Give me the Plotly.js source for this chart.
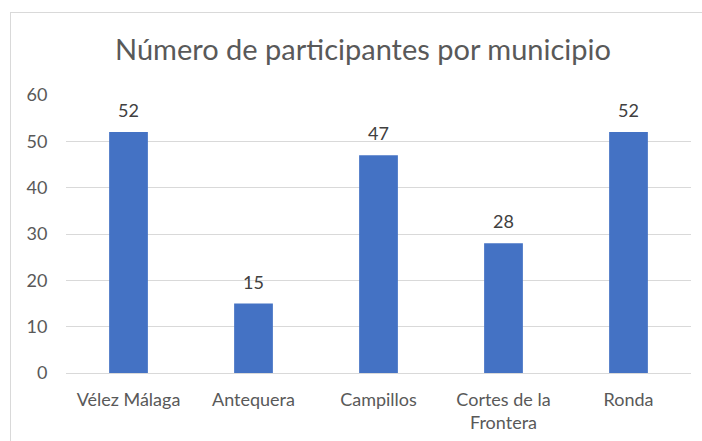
<!DOCTYPE html>
<html>
<head>
<meta charset="utf-8">
<script src="https://cdn.plot.ly/plotly-3.0.1.min.js"></script>
<style>
html,body{margin:0;padding:0;width:702px;height:441px;overflow:hidden;background:#fff;}
#chart{position:absolute;left:0;top:0;width:702px;height:441px;}
#frame{position:absolute;left:10px;top:12px;width:800px;height:600px;border-left:1px solid #d9d9d9;border-top:1px solid #d9d9d9;pointer-events:none;}
</style>
</head>
<body>
<div id="chart"></div>
<div id="frame"></div>
<script>
const categories = ["Vélez Málaga", "Antequera", "Campillos", "Cortes de la<br>Frontera", "Ronda"];
const participantes = [52, 15, 47, 28, 52];
const yTicks = [0, 10, 20, 30, 40, 50, 60];

const font = "Lato, 'Open Sans', 'Liberation Sans', sans-serif";

const labels = categories.map((c, i) => ({
  x: c, y: participantes[i], xref: 'x', yref: 'y',
  text: String(participantes[i]), showarrow: false,
  yanchor: 'bottom', yshift: 9,
  font: {family: font, size: 18, color: '#404040'}
}));

Plotly.newPlot('chart', [{
  type: 'bar',
  x: categories,
  y: participantes,
  marker: {color: '#4472c4'},
  hoverinfo: 'none'
}], {
  width: 702, height: 441,
  margin: {l: 66, r: 11, t: 95, b: 68},
  paper_bgcolor: '#fff', plot_bgcolor: '#fff',
  bargap: 0.69,
  showlegend: false,
  annotations: labels,
  title: {text: 'Número de participantes por municipio', x: 363/702, xref: 'container', xanchor: 'center', y: 1 - 50/441, yref: 'container', yanchor: 'middle', font: {family: font, size: 29, color: '#595959'}},
  xaxis: {
    type: 'category',
    showgrid: false, zeroline: false,
    showline: true, linecolor: '#d9d9d9', linewidth: 1,
    ticks: 'outside', ticklen: 10, tickcolor: 'rgba(0,0,0,0)',
    tickfont: {family: font, size: 18, color: '#595959'}
  },
  yaxis: {
    range: [0, 60], tickvals: yTicks, ticktext: yTicks.map(String),
    showgrid: true, gridcolor: '#d9d9d9', gridwidth: 1,
    zeroline: false, showline: false,
    ticks: 'outside', ticklen: 14, tickcolor: 'rgba(0,0,0,0)',
    tickfont: {family: font, size: 18, color: '#595959'}
  }
}, {staticPlot: true, displayModeBar: false});
</script>
</body>
</html>
